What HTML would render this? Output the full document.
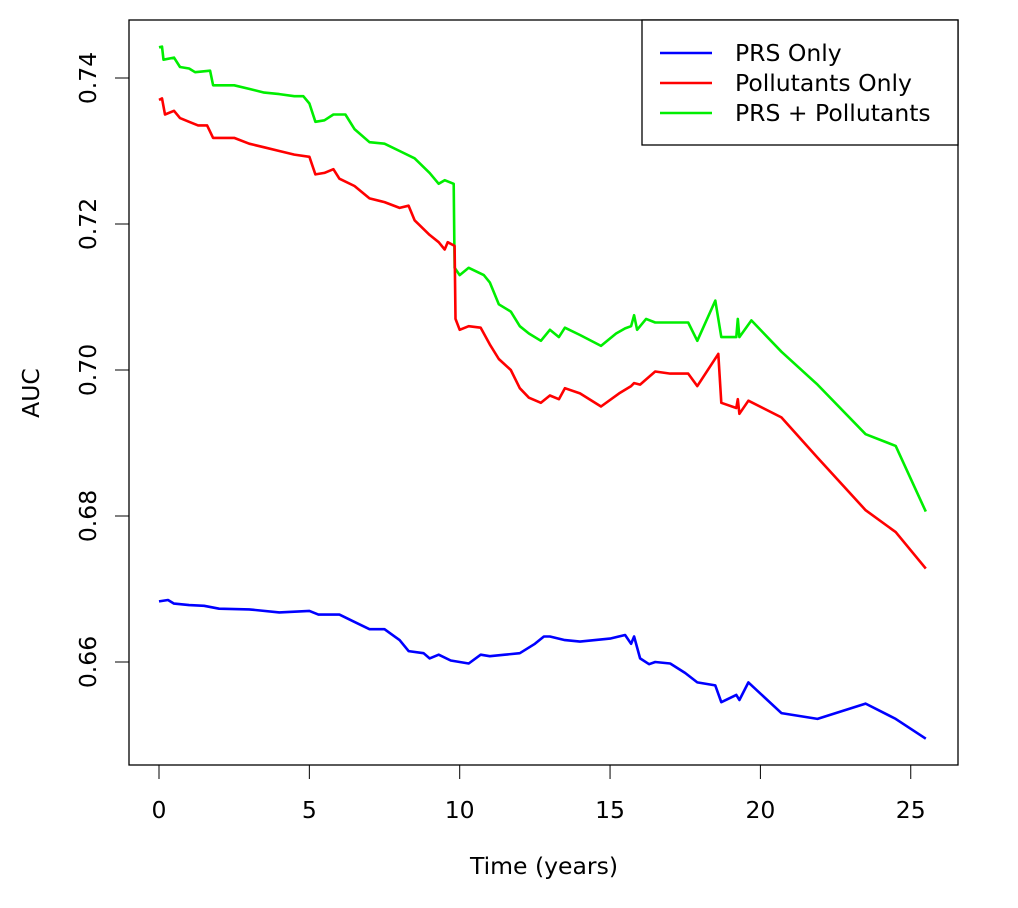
<!DOCTYPE html>
<html><head><meta charset="utf-8"><style>
body{margin:0;background:#fff;width:1018px;height:903px;overflow:hidden;}
svg text{font-family:"DejaVu Sans","Liberation Sans",sans-serif;font-size:23.5px;fill:#000;}
</style></head><body>
<svg id="chart" width="1018" height="903" xmlns="http://www.w3.org/2000/svg">
<rect x="129" y="20" width="829" height="745" fill="none" stroke="#000" stroke-width="1.3"/>
<g id="axes"></g>
<g id="series"></g>
<text x="544" y="874" text-anchor="middle">Time (years)</text>
<text transform="translate(39,393) rotate(-90)" text-anchor="middle">AUC</text>
<g>
<rect x="642" y="20" width="316" height="125" fill="#fff" stroke="#000" stroke-width="1.3"/>
<line x1="660" y1="53" x2="712" y2="53" stroke="#0000ff" stroke-width="2.5"/>
<text x="735" y="61">PRS Only</text>
<line x1="660" y1="83" x2="712" y2="83" stroke="#ff0000" stroke-width="2.5"/>
<text x="735" y="91">Pollutants Only</text>
<line x1="660" y1="113" x2="712" y2="113" stroke="#00ee00" stroke-width="2.5"/>
<text x="735" y="121">PRS + Pollutants</text>
</g>
</svg>
<script>
const xTicks=[0,5,10,15,20,25];
const yTicks=[0.66,0.68,0.70,0.72,0.74];
const greenT=[0,0.1,0.15,0.5,0.7,1.0,1.2,1.7,1.8,2.5,3.0,3.5,4.0,4.5,4.8,5.0,5.2,5.5,5.8,6.2,6.5,7.0,7.5,8.0,8.5,9.0,9.3,9.5,9.8,9.83,10.0,10.3,10.8,11.0,11.3,11.7,12.0,12.3,12.7,13.0,13.3,13.5,14.0,14.7,15.2,15.5,15.7,15.8,15.9,16.2,16.5,17.0,17.6,17.9,18.5,18.7,19.2,19.25,19.3,19.7,20.7,21.9,23.5,24.5,25.5];
const greenV=[0.7442,0.7443,0.7425,0.7428,0.7415,0.7413,0.7408,0.7410,0.7390,0.7390,0.7385,0.7380,0.7378,0.7375,0.7375,0.7365,0.7340,0.7342,0.7350,0.7350,0.7330,0.7312,0.7310,0.7300,0.7290,0.7270,0.7255,0.7260,0.7255,0.7140,0.7130,0.7140,0.7130,0.7120,0.7090,0.7080,0.7060,0.7050,0.7040,0.7055,0.7045,0.7058,0.7048,0.7033,0.7050,0.7057,0.7060,0.7075,0.7055,0.7070,0.7065,0.7065,0.7065,0.7040,0.7095,0.7045,0.7045,0.7070,0.7045,0.7068,0.7025,0.6980,0.6912,0.6896,0.6806];
const redT=[0,0.1,0.2,0.5,0.7,1.0,1.3,1.6,1.8,2.5,3.0,3.5,4.0,4.5,5.0,5.2,5.5,5.8,6.0,6.5,7.0,7.5,8.0,8.3,8.5,9.0,9.3,9.5,9.6,9.83,9.86,10.0,10.3,10.7,11.0,11.3,11.7,12.0,12.3,12.7,13.0,13.3,13.5,14.0,14.7,15.3,15.7,15.8,16.0,16.5,17.0,17.6,17.9,18.6,18.7,19.2,19.25,19.3,19.6,20.7,21.9,23.5,24.5,25.5];
const redV=[0.7370,0.7372,0.7350,0.7355,0.7345,0.7340,0.7335,0.7335,0.7318,0.7318,0.7310,0.7305,0.7300,0.7295,0.7292,0.7268,0.7270,0.7275,0.7262,0.7252,0.7235,0.7230,0.7222,0.7225,0.7205,0.7185,0.7175,0.7165,0.7175,0.7170,0.7070,0.7055,0.7060,0.7058,0.7035,0.7015,0.7000,0.6975,0.6962,0.6955,0.6965,0.6960,0.6975,0.6968,0.6950,0.6968,0.6978,0.6982,0.6980,0.6998,0.6995,0.6995,0.6978,0.7022,0.6955,0.6948,0.6960,0.6940,0.6958,0.6935,0.6880,0.6808,0.6778,0.6728];
const blueT=[0,0.3,0.5,1.0,1.5,2.0,3.0,4.0,5.0,5.3,6.0,6.5,7.0,7.5,8.0,8.3,8.8,9.0,9.3,9.7,10.0,10.3,10.7,11.0,11.5,12.0,12.5,12.8,13.0,13.5,14.0,14.5,15.0,15.5,15.7,15.8,16.0,16.3,16.5,17.0,17.5,17.9,18.5,18.7,19.2,19.3,19.6,20.7,21.9,23.5,24.5,25.5];
const blueV=[0.6683,0.6685,0.6680,0.6678,0.6677,0.6673,0.6672,0.6668,0.6670,0.6665,0.6665,0.6655,0.6645,0.6645,0.6630,0.6615,0.6612,0.6605,0.6610,0.6602,0.6600,0.6598,0.6610,0.6608,0.6610,0.6612,0.6625,0.6635,0.6635,0.6630,0.6628,0.6630,0.6632,0.6637,0.6625,0.6635,0.6605,0.6597,0.6600,0.6598,0.6585,0.6572,0.6568,0.6545,0.6555,0.6548,0.6572,0.6530,0.6522,0.6543,0.6522,0.6495];
const NS="http://www.w3.org/2000/svg";
function xs(t){return 159+t*30.07;}
function ys(v){return 78+(0.74-v)*7300;}
const axes=document.getElementById('axes');
const xl=document.createElementNS(NS,'line');


xl.setAttribute('x1',xs(xTicks[0]));xl.setAttribute('x2',xs(xTicks[xTicks.length-1]));xl.setAttribute('y1',765);xl.setAttribute('y2',765);xl.setAttribute('stroke','#000');
axes.appendChild(xl);
xTicks.forEach(t=>{
 const l=document.createElementNS(NS,'line');
 
 
 l.setAttribute('x1',xs(t));l.setAttribute('x2',xs(t));l.setAttribute('y1',765);l.setAttribute('y2',779);l.setAttribute('stroke','#000');
 axes.appendChild(l);
 const tx=document.createElementNS(NS,'text');
 
 
 tx.setAttribute('x',xs(t));tx.setAttribute('y',818);tx.setAttribute('text-anchor','middle');tx.textContent=t;
 axes.appendChild(tx);
});
const yl=document.createElementNS(NS,'line');


yl.setAttribute('x1',129);yl.setAttribute('x2',129);yl.setAttribute('y1',ys(yTicks[0]));yl.setAttribute('y2',ys(yTicks[yTicks.length-1]));yl.setAttribute('stroke','#000');
axes.appendChild(yl);
yTicks.forEach(v=>{
 const l=document.createElementNS(NS,'line');
 
 
 l.setAttribute('x1',115);l.setAttribute('x2',129);l.setAttribute('y1',ys(v));l.setAttribute('y2',ys(v));l.setAttribute('stroke','#000');
 axes.appendChild(l);
 const tx=document.createElementNS(NS,'text');
 
 
 tx.setAttribute('transform','translate(96,'+ys(v)+') rotate(-90)');tx.setAttribute('text-anchor','middle');tx.textContent=v.toFixed(2);
 axes.appendChild(tx);
});
const ser=document.getElementById('series');
function draw(T,V,color,name){
 const p=document.createElementNS(NS,'polyline');
 
 
 p.setAttribute('points',T.map((t,i)=>xs(t).toFixed(1)+','+ys(V[i]).toFixed(1)).join(' '));
 p.setAttribute('fill','none');p.setAttribute('stroke',color);p.setAttribute('stroke-width','2.6');p.setAttribute('stroke-linejoin','round');
 ser.appendChild(p);
}
draw(greenT,greenV,'#00ee00','prs-pollutants-line');
draw(redT,redV,'#ff0000','pollutants-only-line');
draw(blueT,blueV,'#0000ff','prs-only-line');
</script>
</body></html>
